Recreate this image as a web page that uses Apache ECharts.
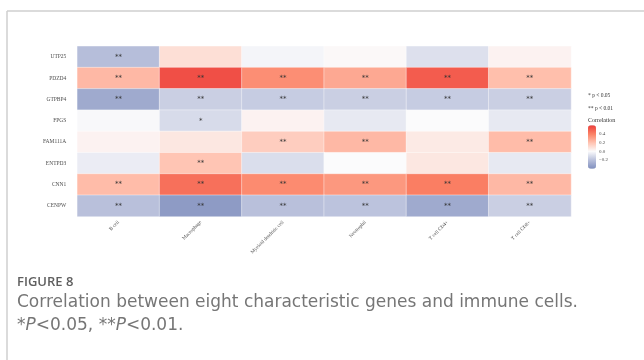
<!DOCTYPE html>
<html>
<head>
<meta charset="utf-8">
<script src="https://cdn.jsdelivr.net/npm/echarts@6/dist/echarts.min.js"></script>
<style>
  html, body {margin: 0; padding: 0; background: #fff;}
  #chart {width: 644px; height: 360px;}
</style>
</head>
<body>
<div id="chart"></div>
<script>
// genes top to bottom, cells left to right
const genes = ['UTP25', 'PDZD4', 'GTPBP4', 'FPGS', 'FAM111A', 'ENTPD3', 'CNN1', 'CENPW'];
const cells = ['B cell', 'Macrophage', 'Myeloid dendritic cell', 'Neutrophil', 'T cell CD4+', 'T cell CD8+'];

// correlation, one row per gene (same order as genes)
const corrUTP25 = [-0.21, 0.10, -0.02, 0.01, -0.09, 0.03];
const corrPDZD4 = [0.23, 0.55, 0.36, 0.28, 0.51, 0.21];
const corrGTPBP4 = [-0.29, -0.15, -0.16, -0.15, -0.16, -0.15];
const corrFPGS = [-0.01, -0.11, 0.03, -0.06, 0.00, -0.06];
const corrFAM111A = [0.03, 0.07, 0.16, 0.23, 0.06, 0.22];
const corrENTPD3 = [-0.05, 0.19, -0.10, 0.00, 0.07, -0.06];
const corrCNN1 = [0.22, 0.45, 0.37, 0.33, 0.41, 0.23];
const corrCENPW = [-0.20, -0.35, -0.20, -0.19, -0.29, -0.15];
const corr = [corrUTP25, corrPDZD4, corrGTPBP4, corrFPGS, corrFAM111A, corrENTPD3, corrCNN1, corrCENPW];

// significance marks
const stars = [
    ['**', '', '', '', '', ''],
    ['**', '**', '**', '**', '**', '**'],
    ['**', '**', '**', '**', '**', '**'],
    ['', '*', '', '', '', ''],
    ['', '', '**', '**', '', '**'],
    ['', '**', '', '', '', ''],
    ['**', '**', '**', '**', '**', '**'],
    ['**', '**', '**', '**', '**', '**']
];

const legendTicks = [0.4, 0.2, 0.0, -0.2];
const colorMin = -0.4, colorMax = 0.6;

const data = [];
corr.forEach((row, y) => row.forEach((v, x) => data.push([x, y, v])));

const serif = '"Liberation Serif", "DejaVu Serif", serif';
const gridColor = '#ebebeb';
const capFont = '"DejaVu Sans"';
const capColor = '#767676';

const chart = echarts.init(document.getElementById('chart'));
chart.setOption({
    animation: false,
    textStyle: {fontFamily: serif},
    grid: [
        {left: 77.3, top: 46.3, width: 493.7, height: 170.2},
        {left: 588, top: 125.3, width: 8, height: 43.4}
    ],
    xAxis: [
        {
            type: 'category', data: cells, gridIndex: 0, position: 'bottom',
            axisLine: {show: false},
            axisTick: {alignWithLabel: true, length: 5, lineStyle: {color: gridColor}},
            axisLabel: {rotate: 45, fontSize: 5, color: '#4d4d4d', margin: 5, fontFamily: serif}
        },
        {
            type: 'category', data: cells, gridIndex: 0, position: 'top',
            axisLine: {show: false}, axisLabel: {show: false},
            axisTick: {alignWithLabel: true, length: 4, lineStyle: {color: gridColor}}
        },
        {type: 'value', gridIndex: 1, show: false}
    ],
    yAxis: [
        {
            type: 'category', data: genes, gridIndex: 0, inverse: true, position: 'left',
            axisLine: {show: false},
            axisTick: {alignWithLabel: true, length: 9, lineStyle: {color: gridColor}},
            axisLabel: {fontSize: 5.5, color: '#4d4d4d', margin: 11, fontFamily: serif}
        },
        {
            type: 'category', data: genes, gridIndex: 0, inverse: true, position: 'right',
            axisLine: {show: false}, axisLabel: {show: false},
            axisTick: {alignWithLabel: true, length: 8, lineStyle: {color: gridColor}}
        },
        {
            type: 'value', gridIndex: 1, position: 'right', min: colorMin, max: colorMax, interval: 0.2,
            axisLine: {show: false}, splitLine: {show: false},
            axisTick: {show: true, inside: true, length: 2, lineStyle: {color: '#fff', width: 0.8}},
            axisLabel: {
                fontSize: 5, color: '#4d4d4d', margin: 3, fontFamily: serif,
                formatter: v => {
                    const t = legendTicks.find(k => Math.abs(k - v) < 1e-6);
                    return t === undefined ? '' : t.toFixed(1).replace('-', '\u2212');
                }
            }
        }
    ],
    visualMap: {
        type: 'continuous', min: colorMin, max: colorMax, calculable: false,
        seriesIndex: 0, orient: 'vertical', left: 588, top: 125.3, padding: 0,
        itemWidth: 8, itemHeight: 43.4, text: null, hoverLink: false,
        inRange: {color: ['#7f8ebe', '#b9c0db', '#fbfbfc', '#ffc2b0', '#fb8165', '#ec3e3b']}
    },
    series: [{
        type: 'heatmap', data, xAxisIndex: 0, yAxisIndex: 0,
        itemStyle: {borderColor: 'rgba(255,255,255,0.7)', borderWidth: 0.6},
        label: {
            show: true, fontSize: 7, color: '#333', fontFamily: 'DejaVu Sans',
            formatter: p => stars[p.value[1]][p.value[0]]
        },
        emphasis: {disabled: true}
    }],
    graphic: [
        {type: 'line', shape: {x1: 7, y1: 11, x2: 644, y2: 11}, style: {stroke: '#cfcfcf', lineWidth: 1.5}},
        {type: 'line', shape: {x1: 7, y1: 11, x2: 7, y2: 360}, style: {stroke: '#cfcfcf', lineWidth: 1.5}},
        {type: 'text', x: 588, y: 95.7, style: {text: '* p < 0.05', font: '5.5px ' + serif, fill: '#333', verticalAlign: 'middle'}},
        {type: 'text', x: 588, y: 108.3, style: {text: '** p < 0.01', font: '5.5px ' + serif, fill: '#333', verticalAlign: 'middle'}},
        {type: 'text', x: 588, y: 120.3, style: {text: 'Correlation', font: '6px ' + serif, fill: '#333', verticalAlign: 'middle'}},
        {type: 'text', x: 17, y: 282, style: {text: 'FIGURE 8', font: '600 13px "Open Sans"', fill: '#5f5f5f', verticalAlign: 'middle'}},
        {type: 'text', x: 17, y: 303, style: {text: 'Correlation between eight characteristic genes and immune cells.', font: '17px ' + capFont, fill: capColor, verticalAlign: 'middle'}},
        {
            type: 'text', x: 17, y: 326,
            style: {
                text: '{n|*}{i|P}{n|<0.05, **}{i|P}{n|<0.01.}',
                verticalAlign: 'middle',
                rich: {
                    n: {fontSize: 17, fontFamily: 'DejaVu Sans', fill: capColor},
                    i: {fontSize: 17, fontFamily: 'DejaVu Sans', fontStyle: 'italic', fill: capColor}
                }
            }
        }
    ]
});
</script>
</body>
</html>
